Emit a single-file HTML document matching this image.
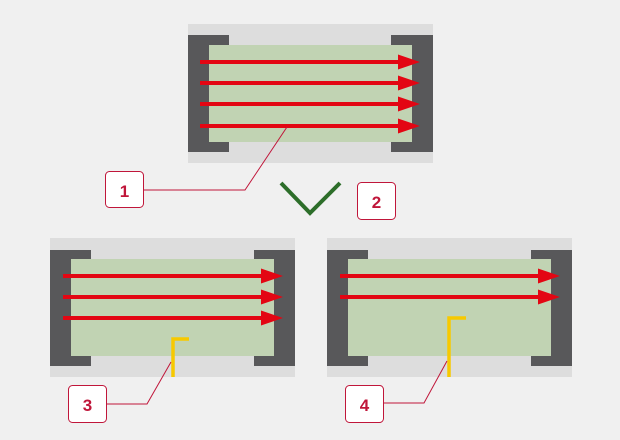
<!DOCTYPE html>
<html><head><style>html,body{margin:0;padding:0;background:#f0f0f0;}svg{display:block}</style></head>
<body>
<svg width="620" height="440" viewBox="0 0 620 440" xmlns="http://www.w3.org/2000/svg">
<defs>
<g id="arr"><rect x="0" y="-2" width="200" height="4" fill="#e30613"/><polygon points="198,-7.5 220,0 198,7.5" fill="#e30613"/></g>
</defs>
<rect width="620" height="440" fill="#f0f0f0"/>
<!-- top -->
<rect x="188" y="24" width="245" height="139" fill="#dddddd"/>
<path d="M188 35H229V45H209V142H229V152H188Z" fill="#58585a"/>
<path d="M433 35H391V45H412V142H391V152H433Z" fill="#58585a"/>
<rect x="209" y="45" width="203" height="97" fill="#c1d3b3"/>
<use href="#arr" x="200" y="62"/><use href="#arr" x="200" y="83"/><use href="#arr" x="200" y="104"/><use href="#arr" x="200" y="126"/>
<polyline points="143,190 245,190 287,127" fill="none" stroke="#c0163a" stroke-width="1"/>
<rect x="105.5" y="171.5" width="38" height="36" rx="4" fill="#fff" stroke="#c0163a" stroke-width="1"/>
<text x="124.5" y="197" font-family="Liberation Sans, sans-serif" font-size="17" font-weight="bold" fill="#c0163a" text-anchor="middle">1</text>
<polyline points="281,183 310,213 340,183" fill="none" stroke="#2d6e2a" stroke-width="4"/>
<rect x="357.5" y="182.5" width="38" height="37" rx="4" fill="#fff" stroke="#c0163a" stroke-width="1"/>
<text x="376.5" y="208" font-family="Liberation Sans, sans-serif" font-size="17" font-weight="bold" fill="#c0163a" text-anchor="middle">2</text>
<!-- bottom left -->
<rect x="50" y="238" width="245" height="139" fill="#dddddd"/>
<path d="M50 250H91V259H71V356H91V366H50Z" fill="#58585a"/>
<path d="M295 250H254V259H274V356H254V366H295Z" fill="#58585a"/>
<rect x="71" y="259" width="203" height="97" fill="#c1d3b3"/>
<use href="#arr" x="63" y="276"/><use href="#arr" x="63" y="297"/><use href="#arr" x="63" y="318"/>
<polyline points="189,339 173,339 173,377" fill="none" stroke="#f7c900" stroke-width="3.5"/>
<polyline points="106,404 147,404 171,362" fill="none" stroke="#c0163a" stroke-width="1"/>
<rect x="68.5" y="385.5" width="38" height="37" rx="4" fill="#fff" stroke="#c0163a" stroke-width="1"/>
<text x="87.5" y="411" font-family="Liberation Sans, sans-serif" font-size="17" font-weight="bold" fill="#c0163a" text-anchor="middle">3</text>
<!-- bottom right -->
<rect x="327" y="238" width="245" height="139" fill="#dddddd"/>
<path d="M327 250H368V259H348V356H368V366H327Z" fill="#58585a"/>
<path d="M572 250H531V259H551V356H531V366H572Z" fill="#58585a"/>
<rect x="348" y="259" width="203" height="97" fill="#c1d3b3"/>
<use href="#arr" x="340" y="276"/><use href="#arr" x="340" y="297"/>
<polyline points="466,318 449,318 449,377" fill="none" stroke="#f7c900" stroke-width="3.5"/>
<polyline points="383,403 424,403 447,361" fill="none" stroke="#c0163a" stroke-width="1"/>
<rect x="345.5" y="385.5" width="38" height="37" rx="4" fill="#fff" stroke="#c0163a" stroke-width="1"/>
<text x="364.5" y="411" font-family="Liberation Sans, sans-serif" font-size="17" font-weight="bold" fill="#c0163a" text-anchor="middle">4</text>
</svg>
</body></html>
